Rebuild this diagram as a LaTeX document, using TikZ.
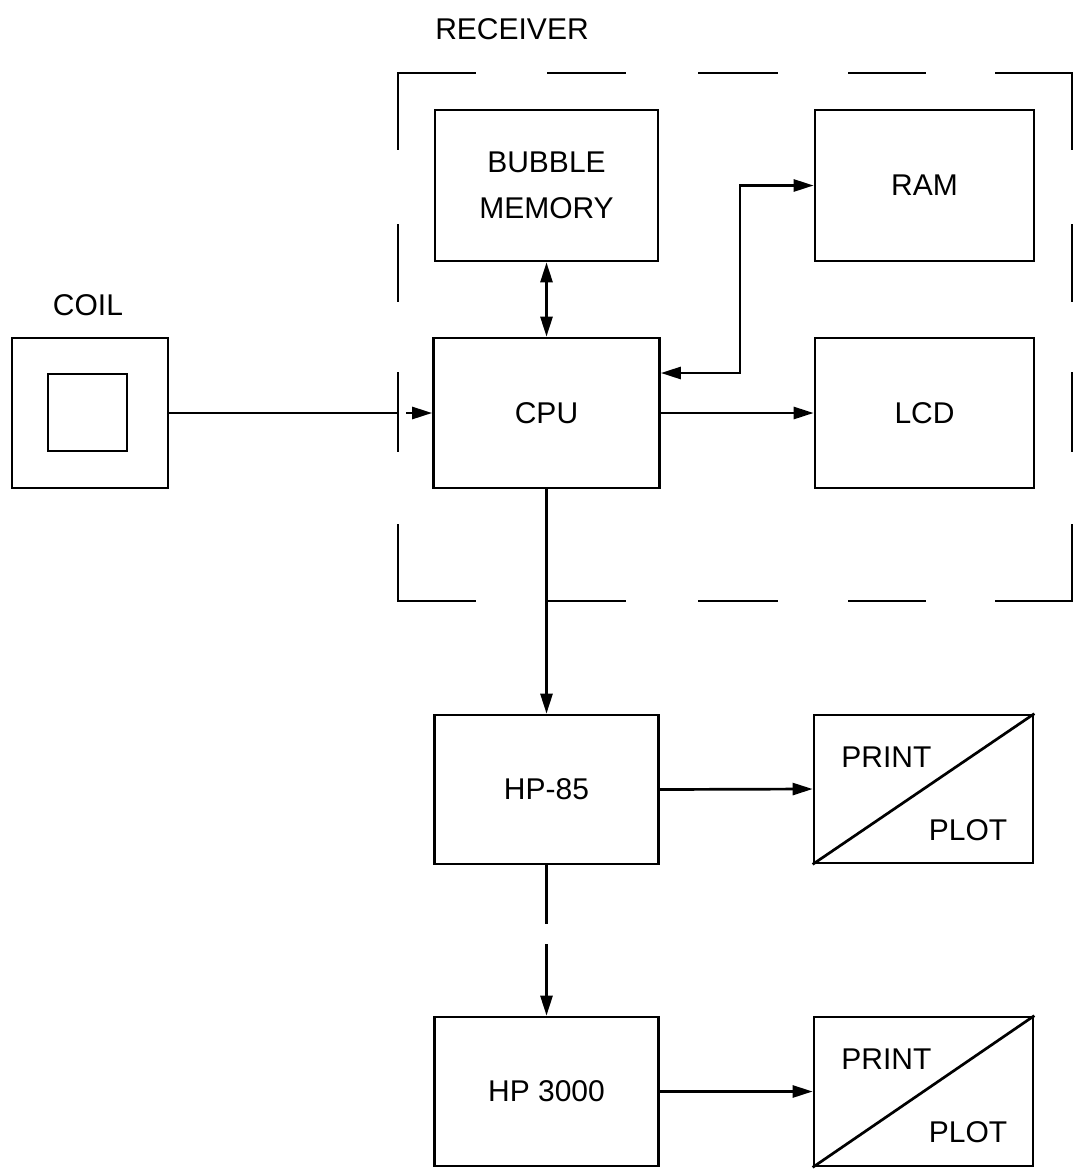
\documentclass[tikz,border=0pt]{standalone}
\usepackage{fontspec}
\setmainfont{Liberation Sans}
\usetikzlibrary{arrows.meta}
\begin{document}
\begin{tikzpicture}[x=1pt,y=-1pt, line width=2.7pt,
  box/.style={draw, rectangle, inner sep=0pt, text depth=0pt, font=\fontsize{30}{46}\selectfont, align=center},
  lbl/.style={inner sep=0pt, font=\fontsize{30}{46}\selectfont},
  arr/.style={-{Triangle[length=20pt,width=12pt]}},
  darr/.style={{Triangle[length=20pt,width=12pt]}-{Triangle[length=20pt,width=12pt]}},
  framepiece/.style={line cap=rect}]
\useasboundingbox (0,0) rectangle (1082,1176);
\fill[white] (0,0) rectangle (1082,1176);

% receiver frame (dashed)
\node[lbl, anchor=base] (recv) at (512,39) {RECEIVER};
\foreach \a/\b in {398/475,548/625,699/777,849/925,996/1072}{
  \draw[framepiece] (\a,73) -- (\b,73);
  \draw[framepiece] (\a,601) -- (\b,601);
}
\foreach \a/\b in {73/149,225/301,373/451,525/601}{
  \draw[framepiece] (398,\a) -- (398,\b);
  \draw[framepiece] (1072,\a) -- (1072,\b);
}

% blocks
\node[box, minimum width=223pt, minimum height=151pt] (bub) at (546.5,185.5) {BUBBLE\\MEMORY};
\node[box, minimum width=219pt, minimum height=151pt] (ram) at (924.5,185.5) {RAM};
\node[box, minimum width=226pt, minimum height=150pt] (cpu) at (546.5,413) {CPU};
\node[box, minimum width=219pt, minimum height=150pt] (lcd) at (924.5,413) {LCD};
\node[box, minimum width=224pt, minimum height=149pt] (hp85) at (546.5,789.5) {HP-85};
\node[box, minimum width=219pt, minimum height=148pt] (pp1) at (923.5,789) {};
\node[box, minimum width=224pt, minimum height=149pt] (hp3000) at (546.5,1091.5) {HP 3000};
\node[box, minimum width=219pt, minimum height=149pt] (pp2) at (923.5,1091.5) {};

% print / plot
\draw (pp1.south west) -- (pp1.north east);
\node[lbl, anchor=base west] (pr1) at (840,767) {PRINT};
\node[lbl, anchor=base] (pl1) at (968,840) {PLOT};
\draw (pp2.south west) -- (pp2.north east);
\node[lbl, anchor=base west] (pr2) at (840,1069) {PRINT};
\node[lbl, anchor=base] (pl2) at (968,1142) {PLOT};

% coil
\node[lbl, anchor=base] (coill) at (88,315) {COIL};
\node[box, minimum width=156pt, minimum height=150pt] (coil) at (90,413) {};
\node[box, minimum width=79pt, minimum height=77pt] (coilin) at (87.5,412.5) {};

% connectors
\coordinate (fx) at (398,413);
\coordinate (fx2) at (406,413);
\draw (coil.east) -- (fx);
\draw[arr] (fx2) -- (cpu.west);
\draw[darr] (bub.south) -- (cpu.north);
\draw[darr] ([yshift=40pt]cpu.east) -- ++(79,0) |- (ram.west);
\draw[arr] (cpu.east) -- (lcd.west);
\draw[arr] (cpu.south) -- (hp85.north);
\draw[arr] (hp85.east) -- (pp1.west);
\draw[arr, dash pattern=on 59pt off 20pt on 300pt] (hp85.south) -- (hp3000.north);
\draw[arr] (hp3000.east) -- (pp2.west);
\end{tikzpicture}
\end{document}
